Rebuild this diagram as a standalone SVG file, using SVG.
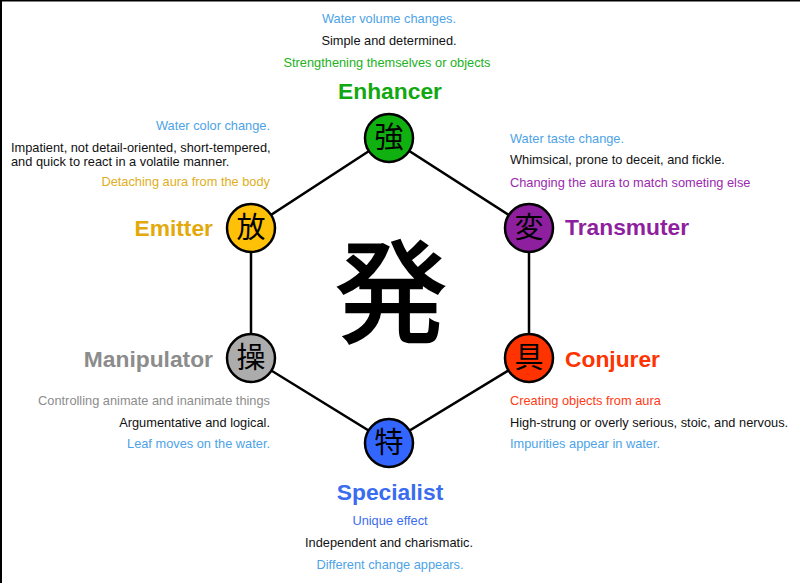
<svg xmlns="http://www.w3.org/2000/svg" width="800" height="583" viewBox="0 0 800 583">
<style>
text{font-family:"Liberation Sans",Arial,sans-serif;font-size:12.8px;}
.lbl{font-size:22.8px;font-weight:bold;}
.k{font-family:"Noto Sans CJK JP","Noto Sans CJK SC",sans-serif;font-size:29px;text-anchor:middle;fill:#000;}
.c{stroke:#000;stroke-width:2.5;}
.e{text-anchor:end;}
.m{text-anchor:middle;}
.w{fill:#4da3e6;}
.b{fill:#111;}
</style>
<rect width="800" height="583" fill="#fff"/>
<path d="M0,0.5H800M1,0V583" stroke="#000" stroke-width="2" fill="none"/>
<g id="connectors" stroke="#000" stroke-width="2.5" fill="none">
<path d="M389,138L251,228L251,358L389,443L529,358L529,228Z"/>
</g>
<g id="center">
<text x="391" y="334" stroke="#000" stroke-width="2.5" stroke-linejoin="miter" style="font-family:'Noto Sans CJK JP','Noto Sans CJK SC',sans-serif;font-size:111px;text-anchor:middle">発</text>
</g>
<g id="enhancer">
<circle class="c" cx="389" cy="138" r="24" fill="#10b010"/>
<text class="k" x="389" y="148">強</text>
<text class="lbl m" x="390" y="99" fill="#11a811">Enhancer</text>
<text class="m w" x="389" y="23">Water volume changes.</text>
<text class="m b" x="389" y="45">Simple and determined.</text>
<text class="m" x="387" y="67" fill="#22b122">Strengthening themselves or objects</text>
</g>
<g id="emitter">
<circle class="c" cx="251" cy="228" r="24" fill="#ffc107"/>
<text class="k" x="251" y="238">放</text>
<text class="lbl e" x="213" y="236" fill="#e3a90a">Emitter</text>
<text class="e w" x="270" y="130">Water color change.</text>
<text class="b" x="11" y="152">Impatient, not detail-oriented, short-tempered,</text>
<text class="b" x="11" y="166">and quick to react in a volatile manner.</text>
<text class="e" x="270" y="186" fill="#e0ae22">Detaching aura from the body</text>
</g>
<g id="transmuter">
<circle class="c" cx="529" cy="228" r="24" fill="#8e1f9e"/>
<text class="k" x="529" y="238">変</text>
<text class="lbl" x="565" y="235" fill="#8e1f9e">Transmuter</text>
<text class="w" x="510" y="143">Water taste change.</text>
<text class="b" x="510" y="164">Whimsical, prone to deceit, and fickle.</text>
<text x="510" y="187" fill="#9a2aae">Changing the aura to match someting else</text>
</g>
<g id="manipulator">
<circle class="c" cx="251" cy="358" r="24" fill="#acacac"/>
<text class="k" x="251" y="368">操</text>
<text class="lbl e" x="213" y="367" fill="#8c8c8c">Manipulator</text>
<text class="e" x="270" y="405" fill="#8c8c8c">Controlling animate and inanimate things</text>
<text class="e b" x="270" y="427">Argumentative and logical.</text>
<text class="e w" x="270" y="448">Leaf moves on the water.</text>
</g>
<g id="conjurer">
<circle class="c" cx="529" cy="358" r="24" fill="#ff3300"/>
<text class="k" x="529" y="368">具</text>
<text class="lbl" x="565" y="367" fill="#ff3300">Conjurer</text>
<text x="510" y="405" fill="#ff3a14">Creating objects from aura</text>
<text class="b" x="510" y="427">High-strung or overly serious, stoic, and nervous.</text>
<text class="w" x="510" y="448">Impurities appear in water.</text>
</g>
<g id="specialist">
<circle class="c" cx="389" cy="443" r="24" fill="#3366ff"/>
<text class="k" x="389" y="453">特</text>
<text class="lbl m" x="390" y="500" fill="#3a6cf0">Specialist</text>
<text class="m" x="390" y="525" fill="#3a6cf0">Unique effect</text>
<text class="m b" x="389" y="547">Independent and charismatic.</text>
<text class="m w" x="390" y="569">Different change appears.</text>
</g>
</svg>
